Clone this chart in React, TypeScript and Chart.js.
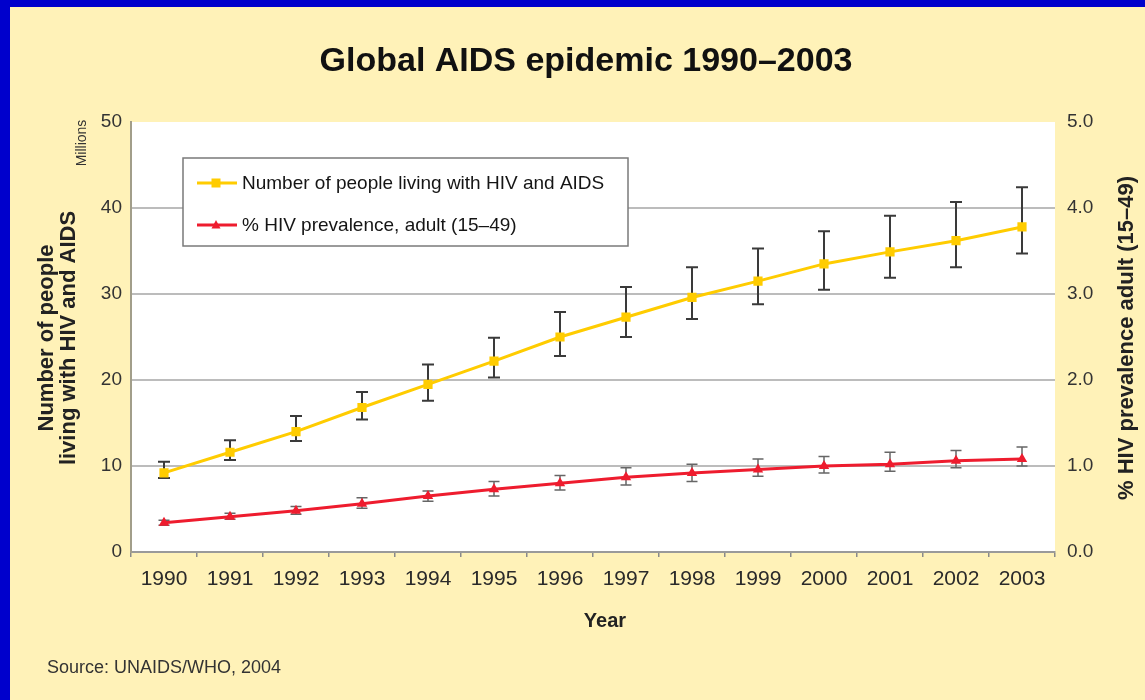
import React, { useEffect, useRef } from "react";
import { Chart, registerables } from "chart.js";

Chart.register(...registerables);

// ---- data ----
const years = ["1990", "1991", "1992", "1993", "1994", "1995", "1996", "1997", "1998", "1999", "2000", "2001", "2002", "2003"];
const peopleMillions = [9.2, 11.6, 14.0, 16.8, 19.5, 22.2, 25.0, 27.3, 29.6, 31.5, 33.5, 34.9, 36.2, 37.8];
const peopleLow = [8.6, 10.7, 12.9, 15.4, 17.6, 20.3, 22.8, 25.0, 27.1, 28.8, 30.5, 31.9, 33.1, 34.7];
const peopleHigh = [10.5, 13.0, 15.8, 18.6, 21.8, 24.9, 27.9, 30.8, 33.1, 35.3, 37.3, 39.1, 40.7, 42.4];
const prevalence = [0.34, 0.41, 0.48, 0.56, 0.65, 0.73, 0.80, 0.87, 0.92, 0.96, 1.0, 1.02, 1.06, 1.08];
const prevLow = [0.31, 0.38, 0.44, 0.51, 0.59, 0.65, 0.72, 0.78, 0.82, 0.88, 0.92, 0.94, 0.98, 1.0];
const prevHigh = [0.37, 0.45, 0.53, 0.63, 0.71, 0.82, 0.89, 0.98, 1.02, 1.08, 1.11, 1.16, 1.18, 1.22];
const leftTicks = [0, 10, 20, 30, 40, 50];
const rightTicks = [0, 1, 2, 3, 4, 5];

const titleText = "Global AIDS epidemic 1990\u20132003";
const leftTitle = ["Number of people", "living with HIV and AIDS"];
const unitText = "Millions";
const rightTitle = "% HIV prevalence adult (15\u201349)";
const xTitle = "Year";
const sourceText = "Source: UNAIDS/WHO, 2004";
const legendLabels = ["Number of people living with HIV and AIDS", "% HIV prevalence, adult (15\u201349)"];

const FONT = "'Liberation Sans', Arial, Helvetica, sans-serif";
const YELLOW = "#FFCC00";
const RED = "#EE1C2E";
const CREAM = "#FFF2B8";
const BLUE = "#0000CC";

const backgroundPlugin = {
  id: "bg",
  beforeDraw(chart: any) {
    const { ctx, width, height, chartArea } = chart;
    ctx.save();
    ctx.fillStyle = CREAM;
    ctx.fillRect(0, 0, width, height);
    ctx.fillStyle = BLUE;
    ctx.fillRect(0, 0, width, 7);
    ctx.fillRect(0, 0, 10, height);
    ctx.fillStyle = "#ffffff";
    ctx.fillRect(chartArea.left, chartArea.top, chartArea.right - chartArea.left, chartArea.bottom - chartArea.top);
    ctx.restore();
  },
};

const errorBarPlugin = {
  id: "errbars",
  beforeDatasetsDraw(chart: any) {
    const { ctx } = chart;
    const x = chart.scales.x;
    const y = chart.scales.y;
    const y1 = chart.scales.y1;
    const draw = (lo: number[], hi: number[], scale: any, color: string, lw: number, cap: number) => {
      ctx.save();
      ctx.strokeStyle = color;
      ctx.lineWidth = lw;
      lo.forEach((l, i) => {
        const px = x.getPixelForValue(i);
        const a = scale.getPixelForValue(l);
        const b = scale.getPixelForValue(hi[i]);
        ctx.beginPath();
        ctx.moveTo(px, a);
        ctx.lineTo(px, b);
        ctx.moveTo(px - cap, a);
        ctx.lineTo(px + cap, a);
        ctx.moveTo(px - cap, b);
        ctx.lineTo(px + cap, b);
        ctx.stroke();
      });
      ctx.restore();
    };
    draw(peopleLow, peopleHigh, y, "#3a3a3a", 2, 6);
    draw(prevLow, prevHigh, y1, "#666666", 1.5, 5.5);
  },
};

const legendPlugin = {
  id: "customLegend",
  afterDatasetsDraw(chart: any) {
    const { ctx } = chart;
    ctx.save();
    const bx = 183, by = 158, bw = 445, bh = 88;
    ctx.fillStyle = "#ffffff";
    ctx.fillRect(bx, by, bw, bh);
    ctx.strokeStyle = "#7a7a7a";
    ctx.lineWidth = 1.5;
    ctx.strokeRect(bx, by, bw, bh);
    const rows = [
      { y: 183, color: YELLOW, shape: "rect" },
      { y: 225, color: RED, shape: "tri" },
    ];
    ctx.font = `19px ${FONT}`;
    ctx.textBaseline = "middle";
    ctx.textAlign = "left";
    rows.forEach((r, i) => {
      ctx.strokeStyle = r.color;
      ctx.lineWidth = 3;
      ctx.beginPath();
      ctx.moveTo(197, r.y);
      ctx.lineTo(237, r.y);
      ctx.stroke();
      ctx.fillStyle = r.color;
      const cx = 216;
      if (r.shape === "rect") {
        ctx.fillRect(cx - 4.5, r.y - 4.5, 9, 9);
      } else {
        ctx.beginPath();
        ctx.moveTo(cx, r.y - 5);
        ctx.lineTo(cx + 4.5, r.y + 3.5);
        ctx.lineTo(cx - 4.5, r.y + 3.5);
        ctx.closePath();
        ctx.fill();
      }
      ctx.fillStyle = "#151515";
      ctx.fillText(legendLabels[i], 242, r.y + 1);
    });
    ctx.restore();
  },
};

const textPlugin = {
  id: "texts",
  afterDraw(chart: any) {
    const { ctx } = chart;
    ctx.save();
    ctx.fillStyle = "#111111";
    ctx.textAlign = "center";
    ctx.textBaseline = "middle";
    ctx.font = `bold 34px ${FONT}`;
    ctx.fillText(titleText, 586, 62);

    ctx.fillStyle = "#222222";
    ctx.font = `bold 20px ${FONT}`;
    ctx.fillText(xTitle, 605, 621);

    const rotText = (t: string, x: number, y: number, font: string, color: string) => {
      ctx.save();
      ctx.font = font;
      ctx.fillStyle = color;
      ctx.translate(x, y);
      ctx.rotate(-Math.PI / 2);
      ctx.fillText(t, 0, 0);
      ctx.restore();
    };
    rotText(leftTitle[0], 47, 338, `bold 22px ${FONT}`, "#222222");
    rotText(leftTitle[1], 69, 338, `bold 22px ${FONT}`, "#222222");
    rotText(unitText, 82, 143, `14px ${FONT}`, "#333333");
    rotText(rightTitle, 1127, 338, `bold 22px ${FONT}`, "#222222");

    ctx.font = `18px ${FONT}`;
    ctx.fillStyle = "#333333";
    ctx.textAlign = "left";
    ctx.fillText(sourceText, 47, 668);
    ctx.restore();
  },
};

export default function App() {
  const ref = useRef<HTMLCanvasElement | null>(null);
  useEffect(() => {
    if (!ref.current) return;
    const chart = new Chart(ref.current, {
      type: "line",
      data: {
        labels: years,
        datasets: [
          {
            label: legendLabels[0],
            data: peopleMillions,
            yAxisID: "y",
            borderColor: YELLOW,
            backgroundColor: YELLOW,
            borderWidth: 3,
            pointStyle: "rect",
            pointRadius: 6.5,
            pointBorderWidth: 0,
            tension: 0,
          },
          {
            label: legendLabels[1],
            data: prevalence,
            yAxisID: "y1",
            borderColor: RED,
            backgroundColor: RED,
            borderWidth: 3,
            pointStyle: "triangle",
            pointRadius: 6,
            pointBorderWidth: 0,
            tension: 0,
          },
        ],
      },
      options: {
        responsive: false,
        animation: false,
        layout: { padding: { top: 122, left: 0, right: 0, bottom: 0 } },
        plugins: {
          legend: { display: false },
          title: { display: false },
          tooltip: { enabled: false },
        },
        scales: {
          x: {
            type: "category",
            offset: true,
            grid: {
              display: true,
              offset: true,
              drawOnChartArea: false,
              drawTicks: true,
              tickLength: 5,
              color: "#8a8a8a",
              lineWidth: 1.5,
            },
            border: { display: true, color: "#9a9a9a", width: 2 },
            ticks: {
              color: "#2a2a2a",
              font: { family: FONT, size: 21 },
              padding: 10,
              maxRotation: 0,
              autoSkip: false,
            },
            afterFit(scale: any) {
              scale.height = 148;
            },
          },
          y: {
            type: "linear",
            position: "left",
            min: 0,
            max: 50,
            afterBuildTicks(scale: any) {
              scale.ticks = leftTicks.map((v) => ({ value: v }));
            },
            grid: {
              drawTicks: false,
              color: (c: any) => (c.tick && (c.tick.value === 0 || c.tick.value === 50) ? "rgba(0,0,0,0)" : "#bcbcbc"),
              lineWidth: 2,
            },
            border: { display: true, color: "#a29e8a", width: 2 },
            ticks: {
              color: "#333333",
              font: { family: FONT, size: 19 },
              padding: 9,
            },
            afterFit(scale: any) {
              scale.width = 131;
            },
          },
          y1: {
            type: "linear",
            position: "right",
            min: 0,
            max: 5,
            afterBuildTicks(scale: any) {
              scale.ticks = rightTicks.map((v) => ({ value: v }));
            },
            grid: { display: false, drawTicks: false },
            border: { display: false },
            ticks: {
              color: "#333333",
              font: { family: FONT, size: 19 },
              padding: 12,
              callback: (v: any) => Number(v).toFixed(1),
            },
            afterFit(scale: any) {
              scale.width = 90;
            },
          },
        },
      },
      plugins: [backgroundPlugin, errorBarPlugin, legendPlugin, textPlugin],
    } as any);
    return () => chart.destroy();
  }, []);
  return (
    <div style={{ position: "absolute", left: 0, top: 0, width: 1145, height: 700 }}>
      <canvas ref={ref} width={1145} height={700} style={{ display: "block", width: 1145, height: 700 }} />
    </div>
  );
}
